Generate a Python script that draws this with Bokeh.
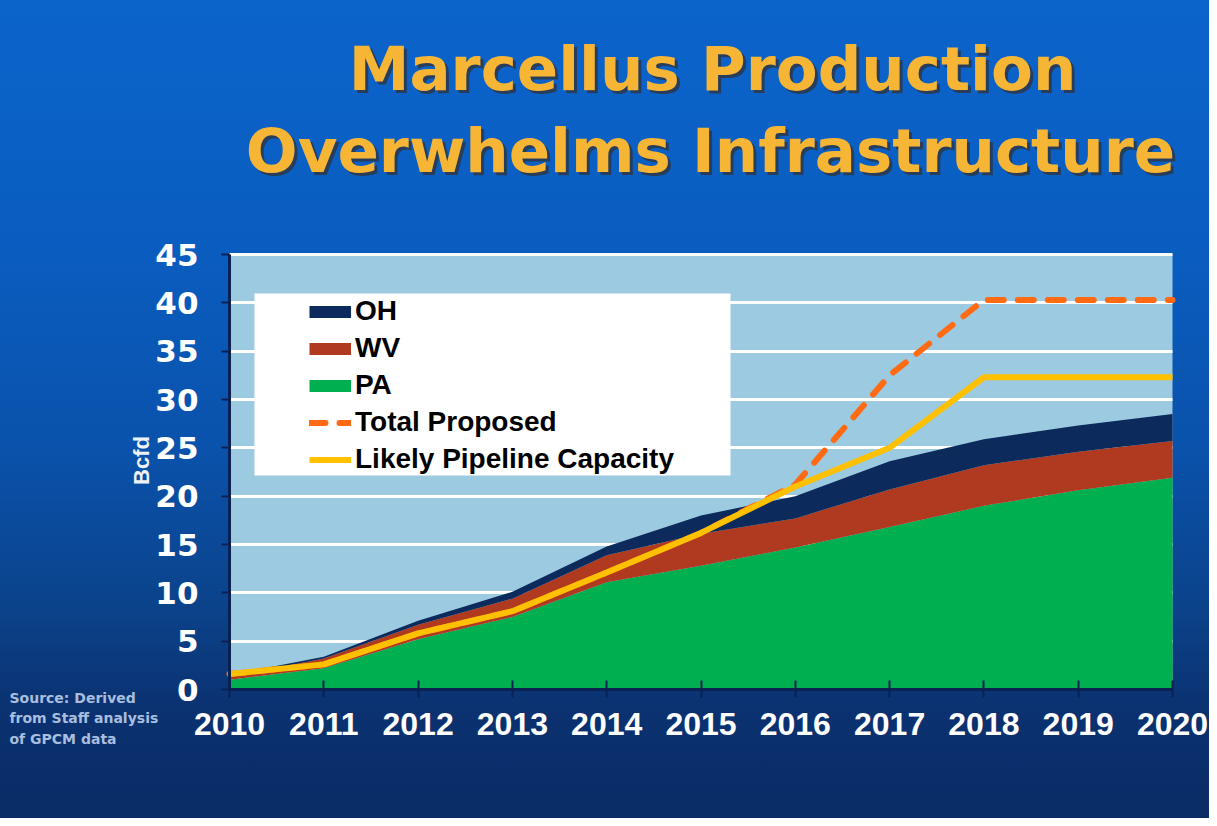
import math
from bokeh.plotting import figure
from bokeh.models import (ColumnDataSource, Range1d, FixedTicker, Label, Legend,
                          LegendItem, BoxAnnotation)
from bokeh.embed import file_html
from bokeh.resources import INLINE

# ---------------- data ----------------
years = [2010, 2011, 2012, 2013, 2014, 2015, 2016, 2017, 2018, 2019, 2020]
pa = [1.0, 2.2, 5.2, 7.5, 11.1, 12.8, 14.7, 16.8, 19.0, 20.6, 21.9]
wv = [0.3, 1.0, 1.5, 1.9, 2.8, 3.3, 3.0, 3.9, 4.2, 4.0, 3.8]
oh = [0.2, 0.2, 0.4, 0.7, 0.9, 1.9, 2.3, 2.9, 2.7, 2.7, 2.8]
total_proposed = [1.6, 2.6, 5.8, 8.1, 12.1, 16.2, 21.2, 32.5, 40.3, 40.3, 40.3]
likely_capacity = [1.6, 2.6, 5.8, 8.1, 12.1, 16.2, 21.0, 25.0, 32.3, 32.3, 32.3]
y_ticks = [0, 5, 10, 15, 20, 25, 30, 35, 40, 45]
title_lines = ["Marcellus Production", "Overwhelms Infrastructure"]
source_note = "Source: Derived\nfrom Staff analysis\nof GPCM data"
y_title = "Bcfd"

# ---------------- layout (pixels) ----------------
W, H = 1209, 818
FRAME_L, FRAME_R, FRAME_T, FRAME_B = 229, 1172, 254, 689
PX_X = (FRAME_R - FRAME_L) / (years[-1] - years[0])
PX_Y = (FRAME_B - FRAME_T) / (y_ticks[-1] - y_ticks[0])
x_start = years[0] - FRAME_L / PX_X
x_end = years[-1] + (W - FRAME_R) / PX_X
y_end = y_ticks[-1] + FRAME_T / PX_Y
y_start = y_ticks[0] - (H - FRAME_B) / PX_Y


def X(px):
    return x_start + px / PX_X


def Y(py):
    return y_end - py / PX_Y


# ---------------- styles ----------------
C_PA = "#00b050"
C_WV = "#b03a20"
C_OH = "#0c2b5c"
C_PROP = "#ff6a13"
C_CAP = "#ffc000"
AXIS_DARK = "#0a2152"
TITLE_GOLD = "#f7b536"
PLOT_BG = "#9ccae0"

src = ColumnDataSource(dict(year=years, PA=pa, WV=wv, OH=oh,
                            proposed=total_proposed, capacity=likely_capacity))

p = figure(width=W, height=H, output_backend="svg", toolbar_location=None,
           x_range=Range1d(x_start, x_end), y_range=Range1d(y_start, y_end),
           min_border=0)
p.background_fill_color = None
p.border_fill_color = None
p.outline_line_color = None
p.styles = {"background": "linear-gradient(to bottom, #0b64cb 0%, #0a5dc0 30%, "
                          "#0a52ab 55%, #0b4289 75%, #0b3170 87%, #0a2c66 100%)"}

# plot area background
p.add_layout(BoxAnnotation(left=years[0], right=years[-1], bottom=y_ticks[0],
                           top=y_ticks[-1], fill_color=PLOT_BG, fill_alpha=1,
                           line_color=None, level="image"))

# grid
p.xgrid.visible = False
p.ygrid.ticker = FixedTicker(ticks=y_ticks)
p.ygrid.grid_line_color = "white"
p.ygrid.grid_line_width = 3
p.ygrid.bounds = (y_ticks[1], y_ticks[-1])
p.ygrid.cross_bounds = (years[0], years[-1])

# axes (placed at the data origin)
p.xaxis.fixed_location = y_ticks[0]
p.xaxis.bounds = (years[0], years[-1])
p.xaxis.ticker = FixedTicker(ticks=years)
p.xaxis.major_label_text_font = "Liberation Sans"
p.xaxis.major_label_text_font_style = "bold"
p.xaxis.major_label_text_font_size = "32px"
p.xaxis.major_label_text_color = "white"
p.xaxis.major_tick_in = 9
p.xaxis.major_tick_out = 8
p.xaxis.major_label_standoff = 15
p.xaxis.minor_tick_line_color = None

p.yaxis.fixed_location = years[0]
p.yaxis.bounds = (y_ticks[0], y_ticks[-1])
p.yaxis.ticker = FixedTicker(ticks=y_ticks)
p.yaxis.major_label_text_font = "DejaVu Sans"
p.yaxis.major_label_text_font_style = "bold"
p.yaxis.major_label_text_font_size = "31px"
p.yaxis.major_label_text_color = "white"
p.yaxis.major_tick_in = 0
p.yaxis.major_tick_out = 8
p.yaxis.major_label_standoff = 23
p.yaxis.minor_tick_line_color = None

for ax in (p.xaxis, p.yaxis):
    ax.axis_line_color = AXIS_DARK
    ax.axis_line_width = 3
    ax.major_tick_line_color = AXIS_DARK
    ax.major_tick_line_width = 2

# stacked areas
areas = p.varea_stack(stackers=["PA", "WV", "OH"], x="year",
                      color=[C_PA, C_WV, C_OH], source=src)

# lines
r_prop = p.line("year", "proposed", source=src, line_color=C_PROP, line_width=6,
                line_dash="16 14", line_cap="round")
r_cap = p.line("year", "capacity", source=src, line_color=C_CAP, line_width=6,
               line_join="round")

# legend keys (thin bars standing for the areas; no data drawn)
nan = float("nan")
key_src = ColumnDataSource(dict(x=years, y=[nan] * len(years)))
k_oh = p.line("x", "y", source=key_src, line_color=C_OH, line_width=12)
k_wv = p.line("x", "y", source=key_src, line_color=C_WV, line_width=12)
k_pa = p.line("x", "y", source=key_src, line_color=C_PA, line_width=12)

# white legend panel
p.add_layout(BoxAnnotation(left=X(254), right=X(730), bottom=Y(475), top=Y(293),
                           fill_color="white", fill_alpha=1, line_color=None))

legend = Legend(items=[
    LegendItem(label="OH", renderers=[k_oh]),
    LegendItem(label="WV", renderers=[k_wv]),
    LegendItem(label="PA", renderers=[k_pa]),
    LegendItem(label="Total Proposed", renderers=[r_prop]),
    LegendItem(label="Likely Pipeline Capacity", renderers=[r_cap]),
], location=(FRAME_L + 80, H - FRAME_B + 214), padding=0, margin=0, spacing=5,
    glyph_width=42, glyph_height=31, label_height=31, label_standoff=4,
    label_text_font="Liberation Sans", label_text_font_style="bold",
    label_text_font_size="28px", label_text_color="black",
    background_fill_alpha=0, border_line_alpha=0)
p.add_layout(legend)

# title with shadow
for txt, cx, by in zip(title_lines, [712, 710], [68, 150]):
    for dx, dy, col, alpha in [(3, -3, "#2e3440", 0.8), (0, 0, TITLE_GOLD, 1.0)]:
        p.add_layout(Label(x=X(cx), y=Y(by), text=txt, x_offset=dx, y_offset=dy,
                           text_align="center", text_baseline="alphabetic",
                           text_font="DejaVu Sans", text_font_style="bold",
                           text_font_size="61px", text_color=col, text_alpha=alpha))

# y-axis title
p.add_layout(Label(x=X(141), y=Y(460), text=y_title, angle=math.pi / 2,
                   text_align="center", text_baseline="middle",
                   text_font="Liberation Sans", text_font_style="bold",
                   text_font_size="22px", text_color="#eef2f8"))

# source note
p.add_layout(Label(x=X(9), y=Y(689), text=source_note, text_align="left",
                   text_baseline="top", text_font="DejaVu Sans",
                   text_font_style="bold", text_font_size="14px",
                   text_line_height=1.3, text_color="#a8bedf"))

open("out.html", "w").write(file_html(p, INLINE))
